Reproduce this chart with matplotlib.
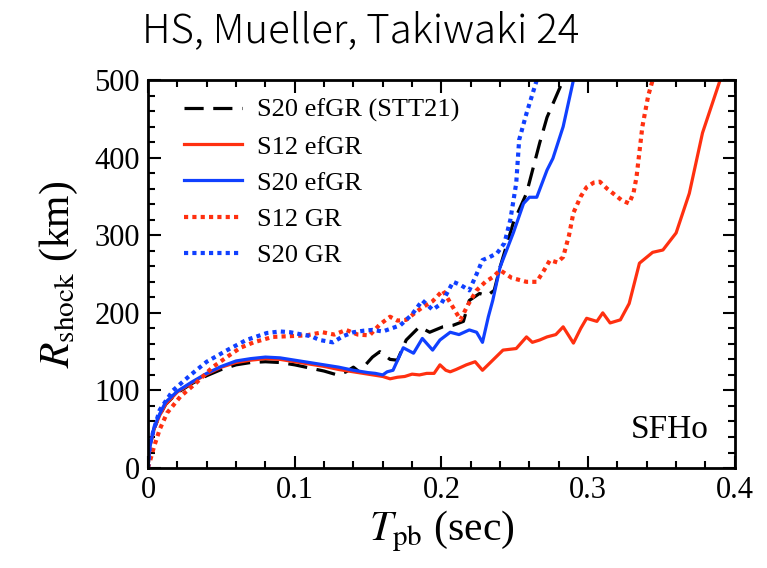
import matplotlib
matplotlib.use('Agg')
import matplotlib.pyplot as plt
from matplotlib.ticker import MultipleLocator

# S20 efGR (STT21), black dashed
t_stt = [0, .001, .004, .008, .012, .02, .03, .04, .05, .06, .07, .08, .09, .10, .11, .12,
         .129, .135, .14, .144, .153, .158, .165, .17, .176, .185, .192, .201, .208, .215,
         .219, .226, .231, .236, .24, .249, .258, .267, .272, .283]
r_stt = [0, 25, 50, 68, 82, 97, 109, 119, 127, 133, 136, 137, 136, 133, 129, 125,
         120, 124, 130, 124, 143, 150, 140, 139, 165, 182, 175, 182, 184, 189,
         216, 225, 222, 229, 259, 316, 354, 419, 452, 500]

# S12 efGR, red solid
t_s12 = [0, .001, .004, .008, .012, .02, .03, .04, .05, .06, .07, .08, .09, .10, .11, .12, .13,
         .14, .15, .16, .165, .17, .175, .18, .185, .19, .195, .199, .203, .206, .21, .217,
         .223, .228, .235, .242, .251, .258, .262, .267, .272, .278, .283, .29, .295, .299,
         .306, .31, .315, .322, .328, .335, .344, .351, .36, .369, .378, .39]
r_s12 = [0, 25, 50, 68, 82, 98, 110, 121, 130, 136, 139, 141, 140, 137, 134, 131, 127,
         124, 121, 118, 115, 117, 118, 121, 120, 122, 122, 133, 126, 124, 127, 133,
         137, 126, 139, 152, 154, 169, 162, 165, 169, 172, 182, 161, 180, 193,
         189, 200, 187, 191, 212, 264, 278, 281, 303, 354, 432, 500]

# S20 efGR, blue solid
t_s20 = [0, .001, .004, .008, .012, .02, .03, .04, .05, .06, .07, .08, .09, .10, .11, .12, .13,
         .14, .15, .155, .16, .163, .167, .174, .181, .187, .194, .199, .206, .212, .219,
         .224, .228, .232, .235, .24, .249, .256, .26, .265, .272, .276, .283, .29]
r_s20 = [0, 25, 52, 70, 85, 99, 111, 122, 131, 138, 141, 143, 142, 139, 136, 133, 130,
         126, 123, 122, 120, 124, 126, 155, 148, 167, 152, 165, 175, 172, 178,
         175, 162, 195, 216, 259, 303, 341, 349, 349, 384, 399, 440, 500]

# S12 GR, red dotted
t_s12gr = [0, .004, .008, .013, .022, .033, .044, .056, .063, .072, .085, .097, .108, .119, .127,
           .135, .143, .151, .158, .165, .17, .176, .182, .187, .194, .201, .207, .213, .218,
           .224, .23, .235, .24, .248, .258, .265, .27, .274, .279, .283, .287, .29, .295,
           .299, .304, .308, .313, .317, .323, .328, .331, .333, .337, .341, .344]
r_s12gr = [0, 27, 50, 71, 92, 110, 130, 146, 155, 162, 169, 170, 171, 175, 172,
           178, 172, 171, 185, 195, 190, 191, 200, 207, 215, 229, 210, 191, 210,
           229, 240, 246, 255, 245, 240, 240, 255, 268, 265, 272, 300, 329, 350,
           362, 368, 369, 360, 354, 345, 341, 355, 375, 440, 480, 500]

# S20 GR, blue dotted
t_s20gr = [0, .0014, .004, .008, .017, .029, .04, .054, .067, .081, .09, .097, .105, .111,
           .117, .126, .133, .14, .147, .153, .16, .166, .172, .18, .187, .194, .2, .208,
           .213, .219, .224, .228, .233, .238, .243, .247, .251, .253, .258, .265]
r_s20gr = [0, 32, 50, 75, 100, 120, 137, 152, 165, 174, 176, 175, 172, 170,
           165, 162, 170, 175, 177, 178, 176, 180, 184, 198, 216, 204, 212, 240,
           236, 229, 250, 268, 272, 277, 290, 320, 367, 423, 457, 500]

xticks = [0, 0.1, 0.2, 0.3, 0.4]
xticklabels = ['0', '0.1', '0.2', '0.3', '0.4']
yticks = [0, 100, 200, 300, 400, 500]
yticklabels = ['0', '100', '200', '300', '400', '500']

red = '#ff3010'
blue = '#1040ff'

plt.rcParams['font.family'] = ['Liberation Serif', 'DejaVu Serif']
plt.rcParams['mathtext.fontset'] = 'stix'

fig = plt.figure(figsize=(7.67, 5.68), dpi=100)
ax = fig.add_axes([0.193, 0.176, 0.765, 0.683])

ax.plot(t_stt, r_stt, color='black', lw=2.3, linestyle=(0, (6, 3)), label='S20 efGR (STT21)')
ax.plot(t_s12, r_s12, color=red, lw=2.3, label='S12 efGR')
ax.plot(t_s20, r_s20, color=blue, lw=2.3, label='S20 efGR')
ax.plot(t_s12gr, r_s12gr, color=red, lw=3.0, linestyle=(0, (1, 1)), label='S12 GR')
ax.plot(t_s20gr, r_s20gr, color=blue, lw=3.0, linestyle=(0, (1, 1)), label='S20 GR')

ax.set_xlim(0, 0.4)
ax.set_ylim(0, 500)
ax.set_xticks(xticks, xticklabels)
ax.set_yticks(yticks, yticklabels)
ax.xaxis.set_minor_locator(MultipleLocator(0.02))
ax.yaxis.set_minor_locator(MultipleLocator(20))
ax.tick_params(which='both', direction='in', top=True, right=True, width=1.5, labelsize=22)
ax.tick_params(which='major', length=9, pad=6)
ax.tick_params(which='minor', length=5)
for s in ax.spines.values():
    s.set_linewidth(2)

ax.set_xlabel(r'$T_{\rm pb}$ (sec)', fontsize=30, labelpad=2)
ax.set_ylabel(r'$R_{\rm shock}$ (km)', fontsize=30, labelpad=10)

ax.text(0.382, 49, 'SFHo', fontsize=24, ha='right', va='center')

ax.legend(loc='upper left', frameon=False, fontsize=19, handlelength=2.2,
          handletextpad=0.55, labelspacing=0.48, borderaxespad=0.3,
          bbox_to_anchor=(0.03, 1.0))

# titolo centrato sulla figura, non sugli assi
fig.text(0.47, 0.945, 'HS, Mueller, Takiwaki 24', fontsize=29, ha='center', va='center',
         fontweight='light', family=['Noto Sans CJK JP', 'DejaVu Sans'])

fig.savefig('out.png', dpi=100)
